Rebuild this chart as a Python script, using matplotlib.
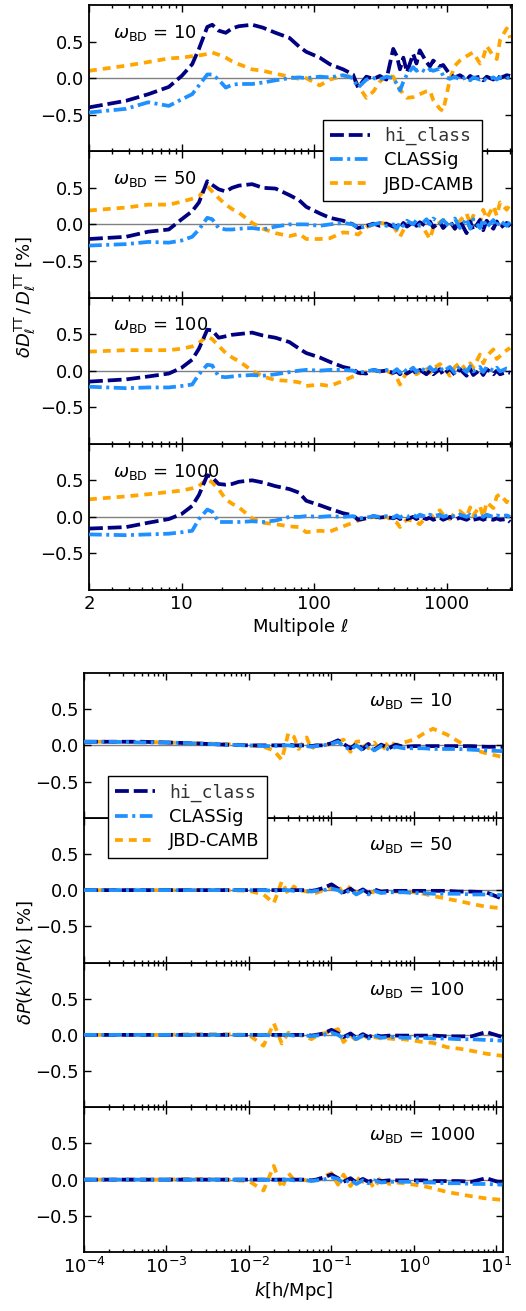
import numpy as np
import matplotlib
matplotlib.use("Agg")
import matplotlib.pyplot as plt
from matplotlib.ticker import FixedLocator, LogLocator, NullFormatter

#%%
"""
Data read off the figure
"""
# CMB TT relative differences, in percent
ell = [2, 3.8, 5.6, 8, 10, 12, 13.5, 15.6, 17, 19, 21.5, 24, 27, 34, 41, 51, 65, 77, 87, 110,
       131, 165, 196, 214, 247,
       280, 312, 350, 394, 420, 443, 470, 500, 557, 590, 625, 702, 745, 789, 886, 938, 1053,
       1150, 1254, 1409, 1500, 1582, 1777, 1880, 1997, 2243, 2380, 2518, 2829, 3000]

hi_cl_10 = [-0.40, -0.31, -0.22, -0.12, 0.03, 0.19, 0.40, 0.70, 0.73, 0.65, 0.62, 0.68, 0.71, 0.73, 0.69,
            0.62, 0.55, 0.43, 0.36, 0.28, 0.19, 0.12, 0.05, -0.13, 0.02,
            -0.01, 0.03, -0.02, 0.40, 0.30, 0.12, 0.28, 0.08, 0.33, 0.20, 0.38, 0.22, 0.16, 0.24, 0.16,
            0.18, 0.05, 0.01, 0.04, -0.02, 0.03, 0.0, 0.02, -0.03, 0.02, -0.02, 0.03, 0.0, 0.04, 0.03]
cg_cl_10 = [-0.47, -0.42, -0.33, -0.38, -0.29, -0.22, -0.10, 0.05, 0.05, -0.02, -0.13, -0.09, -0.08, -0.08, -0.06,
            -0.03, 0.0, 0.01, 0.0, 0.02, 0.01, 0.04, 0.0, -0.13, -0.02,
            0.0, -0.02, 0.02, 0.0, -0.08, -0.17, -0.05, 0.05, 0.15, 0.10, 0.13, 0.08, 0.12, 0.10, 0.13,
            0.03, -0.01, 0.02, -0.02, 0.01, -0.03, 0.01, -0.02, 0.0, -0.03, 0.01, -0.02, 0.01, 0.0, 0.01]
jbd_cl_10 = [0.10, 0.17, 0.22, 0.27, 0.28, 0.30, 0.31, 0.33, 0.35, 0.32, 0.28, 0.23, 0.19, 0.12, 0.10,
             0.06, 0.02, -0.01, 0.0, -0.10, -0.02, 0.03, 0.02, -0.10, -0.27,
             -0.18, -0.05, 0.03, 0.02, -0.08, -0.15, -0.22, -0.27, -0.26, -0.24, -0.22, -0.18, -0.17, -0.30, -0.42,
             -0.45, -0.02, 0.17, 0.24, 0.30, 0.33, 0.35, 0.20, 0.28, 0.44, 0.30, 0.26, 0.52, 0.68, 0.55]

hi_cl_50 = [-0.20, -0.17, -0.10, -0.07, 0.07, 0.18, 0.30, 0.59, 0.54, 0.48, 0.45, 0.50, 0.53, 0.55, 0.50,
            0.49, 0.40, 0.33, 0.24, 0.15, 0.09, 0.05, 0.0, -0.05, -0.02,
            0.01, -0.02, 0.01, -0.03, -0.02, -0.05, 0.02, -0.03, 0.03, -0.02, 0.03, -0.03, 0.04, -0.04, 0.03,
            -0.05, 0.05, -0.06, 0.05, -0.12, 0.04, -0.08, 0.06, -0.08, 0.05, -0.06, 0.04, -0.05, 0.02, -0.03]
cg_cl_50 = [-0.29, -0.27, -0.24, -0.25, -0.22, -0.17, -0.07, 0.09, 0.07, -0.05, -0.07, -0.07, -0.06, -0.05, -0.07,
            -0.03, 0.0, 0.0, 0.0, -0.02, 0.0, 0.02, 0.0, -0.05, -0.03,
            0.0, 0.02, -0.02, 0.0, -0.06, 0.03, -0.02, 0.05, 0.0, 0.06, -0.02, 0.07, 0.0, 0.08, 0.02,
            0.06, -0.04, 0.08, -0.05, 0.08, -0.06, 0.07, -0.05, 0.07, -0.04, 0.06, -0.03, 0.05, -0.02, 0.03]
jbd_cl_50 = [0.19, 0.23, 0.27, 0.27, 0.31, 0.35, 0.38, 0.52, 0.45, 0.36, 0.27, 0.21, 0.16, 0.02, -0.06,
             -0.12, -0.16, -0.13, -0.20, -0.20, -0.19, -0.11, -0.12, -0.14, -0.04,
             0.0, 0.02, 0.01, -0.02, -0.10, -0.17, -0.08, 0.0, 0.02, -0.05, 0.02, -0.12, -0.20, -0.05, 0.03,
             0.06, 0.03, -0.06, 0.05, 0.15, 0.0, 0.12, 0.02, 0.20, 0.08, 0.25, 0.12, 0.30, 0.20, 0.28]

hi_cl_100 = [-0.15, -0.12, -0.08, -0.04, 0.04, 0.15, 0.30, 0.56, 0.55, 0.45, 0.47, 0.49, 0.50, 0.52, 0.48,
             0.45, 0.39, 0.30, 0.24, 0.18, 0.12, 0.05, 0.02, -0.03, -0.04,
             0.01, -0.01, 0.0, -0.03, -0.01, -0.05, 0.0, -0.04, 0.01, -0.04, 0.01, -0.05, 0.0, -0.05, 0.02,
             -0.06, 0.03, -0.06, 0.02, -0.07, 0.02, -0.06, 0.01, -0.06, 0.02, -0.05, 0.0, -0.05, -0.02, -0.03]
cg_cl_100 = [-0.22, -0.24, -0.23, -0.23, -0.21, -0.19, -0.05, 0.08, 0.07, -0.08, -0.09, -0.08, -0.07, -0.06, -0.07,
             -0.05, -0.02, 0.0, 0.01, 0.0, 0.01, 0.01, 0.0, -0.03, -0.01,
             0.01, -0.01, 0.01, -0.02, 0.02, -0.03, 0.03, -0.02, 0.04, -0.02, 0.04, -0.01, 0.05, 0.0, 0.05,
             -0.01, 0.05, -0.03, 0.06, -0.02, 0.06, -0.01, 0.05, -0.02, 0.05, 0.0, 0.04, -0.01, 0.03, 0.02]
jbd_cl_100 = [0.26, 0.28, 0.28, 0.28, 0.30, 0.33, 0.38, 0.47, 0.43, 0.34, 0.24, 0.18, 0.13, 0.0, -0.08,
              -0.13, -0.14, -0.16, -0.21, -0.19, -0.21, -0.14, -0.08, -0.05, -0.02,
              0.0, -0.01, 0.0, -0.05, -0.10, -0.19, -0.10, -0.03, 0.0, -0.05, -0.02, 0.02, -0.03, 0.03, 0.09,
              0.05, -0.07, 0.05, 0.11, 0.0, 0.10, 0.04, 0.22, 0.10, 0.20, 0.29, 0.16, 0.20, 0.28, 0.31]

hi_cl_1000 = [-0.16, -0.14, -0.08, -0.03, 0.04, 0.15, 0.30, 0.57, 0.54, 0.45, 0.44, 0.45, 0.48, 0.50, 0.47,
              0.42, 0.38, 0.33, 0.22, 0.16, 0.11, 0.05, 0.02, -0.04, -0.02,
              0.01, -0.01, 0.0, -0.02, 0.0, -0.03, -0.01, -0.03, 0.0, -0.03, 0.0, -0.03, -0.01, -0.04, -0.01,
              -0.04, 0.0, -0.04, -0.01, -0.04, -0.01, -0.04, -0.02, -0.04, -0.02, -0.04, -0.02, -0.04, -0.03, -0.07]
cg_cl_1000 = [-0.24, -0.25, -0.24, -0.23, -0.21, -0.19, -0.03, 0.10, 0.07, -0.07, -0.07, -0.07, -0.07, -0.06, -0.07,
              -0.05, 0.0, 0.0, 0.01, 0.0, 0.01, 0.0, 0.01, -0.02, -0.01,
              0.01, 0.0, 0.01, -0.01, 0.02, -0.01, 0.02, 0.0, 0.03, 0.0, 0.03, 0.0, 0.03, 0.01, 0.03,
              0.0, 0.03, 0.0, 0.03, 0.0, 0.03, 0.0, 0.03, 0.0, 0.03, 0.0, 0.02, 0.01, 0.02, 0.0]
jbd_cl_1000 = [0.24, 0.28, 0.31, 0.34, 0.36, 0.39, 0.42, 0.52, 0.47, 0.38, 0.24, 0.18, 0.13, -0.02, -0.08,
               -0.10, -0.13, -0.14, -0.21, -0.19, -0.20, -0.13, -0.08, -0.05, -0.02,
               0.0, -0.02, 0.0, -0.05, -0.08, -0.14, -0.08, -0.04, -0.05, -0.07, -0.10, 0.0, -0.02, 0.02, 0.09,
               0.03, -0.03, 0.06, 0.08, 0.0, 0.13, 0.02, 0.15, 0.0, 0.20, 0.12, 0.28, 0.31, 0.20, 0.30]

# matter power spectrum relative differences, in percent
k = [1e-4, 2e-4, 5e-4, 1e-3, 2e-3, 5e-3, 1e-2, 0.015, 0.02, 0.025, 0.03, 0.035, 0.04, 0.05, 0.057,
     0.065, 0.08, 0.1, 0.12, 0.14, 0.17, 0.2, 0.24, 0.28, 0.33, 0.4, 0.5, 0.6, 0.75, 1.0,
     1.3, 1.7, 2.5, 3.5, 5.0, 7.5, 11.8]

hi_pk_10 = [0.05, 0.05, 0.05, 0.04, 0.03, 0.01, 0.0, 0.0, 0.0, 0.0, 0.01, 0.0, 0.0, 0.0, -0.01,
            0.0, 0.0, 0.03, 0.07, 0.02, -0.04, 0.02, -0.05, 0.02, -0.06, 0.01, -0.04, 0.01, -0.02, -0.01,
            -0.01, -0.01, -0.01, -0.01, -0.01, -0.02, -0.02]
cg_pk_10 = [0.05, 0.05, 0.04, 0.04, 0.03, 0.01, 0.0, -0.01, -0.01, 0.0, 0.0, -0.01, 0.0, -0.01, -0.02,
            -0.01, 0.0, 0.02, 0.05, -0.01, -0.06, 0.0, -0.07, 0.0, -0.07, -0.01, -0.06, -0.02, -0.04, -0.04,
            -0.04, -0.05, -0.05, -0.05, -0.06, -0.07, -0.08]
jbd_pk_10 = [0.05, 0.05, 0.05, 0.04, 0.03, 0.02, 0.0, -0.02, -0.07, -0.20, 0.17, 0.12, -0.05, 0.11, -0.05,
             0.0, 0.0, 0.02, 0.04, 0.08, -0.09, 0.05, 0.06, -0.04, 0.04, -0.08, 0.06, 0.0, 0.04, 0.08,
             0.16, 0.23, 0.15, 0.05, -0.05, -0.11, -0.16]

hi_pk_50 = [0.0, 0.0, 0.0, 0.0, 0.0, 0.0, 0.0, 0.0, 0.0, 0.0, 0.0, 0.0, 0.0, 0.0, -0.01,
            0.0, 0.03, 0.08, 0.02, -0.03, 0.02, -0.04, 0.01, -0.04, 0.01, -0.02, -0.01, -0.01, -0.01, -0.01,
            -0.01, -0.01, -0.01, -0.02, -0.02, -0.03, -0.12]
cg_pk_50 = [0.0, 0.0, 0.0, 0.0, 0.0, 0.0, 0.0, 0.0, -0.01, 0.0, 0.0, -0.01, 0.0, -0.01, -0.02,
            -0.01, 0.0, 0.02, 0.0, -0.05, 0.0, -0.06, -0.01, -0.06, -0.01, -0.04, -0.03, -0.03, -0.03, -0.04,
            -0.04, -0.05, -0.05, -0.05, -0.06, -0.06, -0.07]
jbd_pk_50 = [0.0, 0.0, 0.0, 0.0, 0.0, 0.0, -0.01, -0.06, -0.18, 0.12, -0.06, 0.05, 0.0, -0.02, -0.03,
             -0.04, 0.0, 0.03, 0.08, -0.08, 0.06, -0.04, -0.02, -0.03, -0.03, -0.02, -0.01, -0.02, -0.02, -0.03,
             -0.05, -0.08, -0.12, -0.15, -0.19, -0.23, -0.25]

hi_pk_100 = [0.0, 0.0, 0.0, 0.0, 0.0, 0.0, 0.0, 0.0, 0.0, 0.0, 0.0, 0.0, 0.0, 0.0, -0.01,
             0.0, 0.02, 0.07, 0.02, -0.03, 0.02, -0.04, 0.01, -0.03, 0.0, -0.02, -0.01, -0.01, -0.01, -0.01,
             -0.01, -0.01, -0.02, -0.02, -0.02, 0.04, -0.03]
cg_pk_100 = [0.0, 0.0, 0.0, 0.0, 0.0, 0.0, 0.0, 0.0, -0.01, 0.0, 0.0, -0.01, 0.0, -0.01, -0.02,
             -0.01, 0.0, 0.03, 0.0, -0.05, 0.0, -0.06, -0.01, -0.05, -0.01, -0.04, -0.03, -0.03, -0.04, -0.04,
             -0.04, -0.05, -0.05, -0.06, -0.06, -0.07, -0.08]
jbd_pk_100 = [0.0, 0.0, 0.0, 0.0, 0.01, 0.01, 0.0, -0.15, 0.16, -0.12, 0.03, 0.0, 0.0, -0.03, -0.06,
              -0.02, 0.02, 0.05, 0.08, -0.10, 0.0, -0.08, -0.01, -0.04, -0.03, -0.05, -0.05, -0.06, -0.06, -0.08,
              -0.10, -0.11, -0.17, -0.19, -0.22, -0.26, -0.29]

hi_pk_1000 = [0.0, 0.0, 0.0, 0.0, 0.0, 0.0, 0.0, 0.0, 0.0, 0.0, 0.0, 0.0, 0.0, 0.0, -0.01,
              0.0, 0.03, 0.07, 0.02, -0.03, 0.02, -0.04, 0.01, -0.03, 0.0, -0.02, -0.01, -0.01, -0.01, -0.01,
              -0.01, -0.02, -0.02, -0.02, -0.03, 0.02, -0.05]
cg_pk_1000 = [0.0, 0.0, 0.0, 0.0, 0.0, 0.0, 0.0, 0.0, -0.01, 0.0, 0.0, -0.01, 0.0, -0.01, -0.02,
              -0.01, 0.0, 0.03, 0.01, -0.05, 0.0, -0.06, -0.01, -0.05, -0.01, -0.04, -0.03, -0.03, -0.03, -0.03,
              -0.04, -0.04, -0.05, -0.05, -0.06, -0.06, -0.07]
jbd_pk_1000 = [0.0, 0.0, 0.0, 0.0, 0.01, 0.0, -0.02, -0.15, 0.19, -0.12, 0.09, 0.0, 0.0, -0.01, -0.02,
               -0.01, 0.04, 0.09, -0.07, 0.07, -0.09, 0.03, -0.03, 0.0, -0.12, 0.04, -0.06, -0.04, -0.05, -0.07,
               -0.09, -0.12, -0.17, -0.20, -0.23, -0.26, -0.28]

omegas = [10, 50, 100, 1000]
cl_sets = [(hi_cl_10, cg_cl_10, jbd_cl_10), (hi_cl_50, cg_cl_50, jbd_cl_50),
           (hi_cl_100, cg_cl_100, jbd_cl_100), (hi_cl_1000, cg_cl_1000, jbd_cl_1000)]
pk_sets = [(hi_pk_10, cg_pk_10, jbd_pk_10), (hi_pk_50, cg_pk_50, jbd_pk_50),
           (hi_pk_100, cg_pk_100, jbd_pk_100), (hi_pk_1000, cg_pk_1000, jbd_pk_1000)]

#%%
"""
Plotting
"""
plt.rcParams['font.size'] = 13
plt.rcParams['mathtext.fontset'] = 'dejavusans'

W, H = 526, 1311
fig = plt.figure(figsize=(W / 100, H / 100), dpi=100)


def px_axes(left, top, right, bottom):
    # make axes from pixel box (top-left origin)
    return fig.add_axes([left / W, 1 - bottom / H, (right - left) / W, (bottom - top) / H])


def style_axis(ax):
    ax.set_ylim(-1, 1)
    ax.set_yticks([-0.5, 0.0, 0.5])
    ax.tick_params(which='both', direction='in', top=True, right=True, labelsize=13)
    ax.tick_params(which='major', length=5, width=1)
    ax.tick_params(which='minor', length=2.5, width=1)
    for s in ax.spines.values():
        s.set_linewidth(1.3)


def draw_curves(ax, x, hi, cg, jbd):
    ax.axhline(0, color='gray', lw=1, zorder=1)
    ax.plot(x, hi, color='navy', lw=2.7, dashes=(3.7, 1.3), label='hi_class', zorder=3)
    ax.plot(x, cg, color='dodgerblue', lw=2.7, dashes=(3.4, 1.2, 0.8, 1.2), label='CLASSig', zorder=4)
    ax.plot(x, jbd, color='orange', lw=2.7, dashes=(2.1, 1.6), label='JBD-CAMB', zorder=2)


def fix_legend(leg):
    leg.get_frame().set_edgecolor('black')
    leg.get_frame().set_linewidth(1.0)
    leg.get_texts()[0].set_family('DejaVu Sans Mono')
    leg.get_texts()[0].set_color('#333333')
    leg.set_zorder(20)


# --- top block: CMB TT ---
top_edges = np.linspace(5, 590, 5)
cl_axes = []
for i in range(4):
    ax = px_axes(89, top_edges[i], 512, top_edges[i + 1])
    hi, cg, jbd = cl_sets[i]
    draw_curves(ax, ell, hi, cg, jbd)
    ax.set_xscale('log')
    ax.set_xlim(2, 3100)
    ax.xaxis.set_major_locator(FixedLocator([2, 10, 100, 1000]))
    ax.xaxis.set_minor_locator(LogLocator(base=10, subs=np.arange(2, 10)))
    ax.xaxis.set_minor_formatter(NullFormatter())
    style_axis(ax)
    if i < 3:
        ax.set_xticklabels([])
    else:
        ax.set_xticklabels(['2', '10', '100', '1000'])
        ax.set_xlabel(r'Multipole $\ell$', labelpad=2)
    ax.text(0.057, 0.81, r'$\omega_{\rm BD}$ = %d' % omegas[i], transform=ax.transAxes,
            ha='left', va='center', fontsize=13)
    ax.set_zorder(10 - i)
    cl_axes.append(ax)

leg = cl_axes[0].legend(loc='lower right', bbox_to_anchor=(0.929, -0.34), borderaxespad=0,
                        handlelength=2.2, labelspacing=0.35, fontsize=13, fancybox=False,
                        framealpha=1)
fix_legend(leg)

fig.text(25 / W, 1 - 297 / H, r'$\delta D_\ell^{\rm TT}\,/\,D_\ell^{\rm TT}$ [%]',
         rotation=90, ha='center', va='center', fontsize=13)

# --- bottom block: P(k) ---
bot_edges = np.linspace(673, 1252, 5)
pk_axes = []
for i in range(4):
    ax = px_axes(84, bot_edges[i], 503, bot_edges[i + 1])
    hi, cg, jbd = pk_sets[i]
    draw_curves(ax, k, hi, cg, jbd)
    ax.set_xscale('log')
    ax.set_xlim(1e-4, 12)
    ax.xaxis.set_major_locator(LogLocator(base=10))
    ax.xaxis.set_minor_locator(LogLocator(base=10, subs=np.arange(2, 10)))
    ax.xaxis.set_minor_formatter(NullFormatter())
    style_axis(ax)
    if i < 3:
        ax.set_xticklabels([])
    else:
        ax.set_xlabel(r'$k$[h/Mpc]', labelpad=2)
    ax.text(0.68, 0.81, r'$\omega_{\rm BD}$ = %d' % omegas[i], transform=ax.transAxes,
            ha='left', va='center', fontsize=13)
    ax.set_zorder(10 - i)
    pk_axes.append(ax)

leg2 = pk_axes[0].legend(loc='lower left', bbox_to_anchor=(0.057, -0.276), borderaxespad=0,
                         handlelength=2.2, labelspacing=0.35, fontsize=13, fancybox=False,
                         framealpha=1)
fix_legend(leg2)

fig.text(25 / W, 1 - 962 / H, r'$\delta P(k)/P(k)$ [%]',
         rotation=90, ha='center', va='center', fontsize=13)

fig.savefig('out.png', dpi=100)
